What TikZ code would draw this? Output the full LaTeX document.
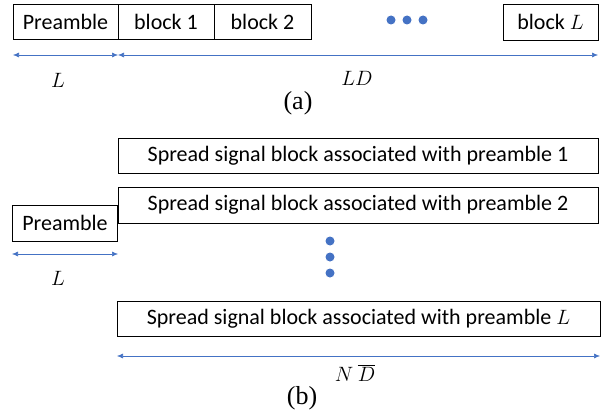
\documentclass[tikz,border=0pt]{standalone}
\usepackage{fontspec}
\setmainfont{Carlito}
\newfontfamily\timesf{Liberation Serif}
\usetikzlibrary{arrows.meta}
\definecolor{arrblue}{RGB}{68,114,196}
\begin{document}
\begin{tikzpicture}[x=1pt,y=-1pt,
  box/.style={draw=black,line width=0.8pt,inner sep=0pt,font=\fontsize{22}{26}\selectfont},
  dim/.style={draw=arrblue,line width=0.6pt,{Latex[length=6pt,width=5pt]}-{Latex[length=6pt,width=5pt]}},
  lab/.style={font=\fontsize{20}{24}\selectfont},
  captxt/.style={font=\timesf\fontsize{26}{30}\selectfont},
  dot/.style={circle,fill=arrblue,inner sep=0pt,minimum size=9pt}]
\useasboundingbox (0,0) rectangle (611,420);
% (a)
\node[box,minimum width=105pt,minimum height=35pt] (pa) at (65.5,22) {Preamble};
\node[box,minimum width=96pt,minimum height=35pt] (b1) at (166,22) {block 1};
\node[box,minimum width=97pt,minimum height=35pt] (b2) at (262.5,22) {block 2};
\node[box,minimum width=95pt,minimum height=36pt] (bL) at (550.5,22) {block $L$};
\node[dot] (d1) at (391,20) {};
\node[dot] (d2) at (407,20) {};
\node[dot] (d3) at (423,20) {};
\coordinate (a0) at (13,55);
\coordinate (a1) at (118,55);
\coordinate (a2) at (598,55);
\draw[dim] (a0) -- (a1);
\draw[dim] (a1) -- (a2);
\node[lab] (la) at (58,80) {$L$};
\node[lab] (lda) at (357,78) {$LD$};
\node[captxt] (capa) at (298,103) {(a)};
% (b)
\node[box,minimum width=480pt,minimum height=35pt] (s1) at (358,155.5) {Spread signal block associated with preamble 1};
\node[box,minimum width=480pt,minimum height=36pt] (s2) at (358,205) {Spread signal block associated with preamble 2};
\node[box,minimum width=105pt,minimum height=36pt] (pb) at (65,223) {Preamble};
\node[dot] (v1) at (330,241) {};
\node[dot] (v2) at (330,257) {};
\node[dot] (v3) at (330,273) {};
\node[box,minimum width=483pt,minimum height=35pt] (sL) at (358.5,318.5) {Spread signal block associated with preamble $L$};
\coordinate (b0) at (12,254);
\coordinate (bb1) at (118,254);
\draw[dim] (b0) -- (bb1);
\node[lab] (lb) at (58,278) {$L$};
\coordinate (c0) at (117,356);
\coordinate (c1) at (600,356);
\draw[dim] (c0) -- (c1);
\node[lab] (nd) at (355,373) {$N\ \overline{D}$};
\node[captxt] (capb) at (302,398) {(b)};
\end{tikzpicture}
\end{document}
